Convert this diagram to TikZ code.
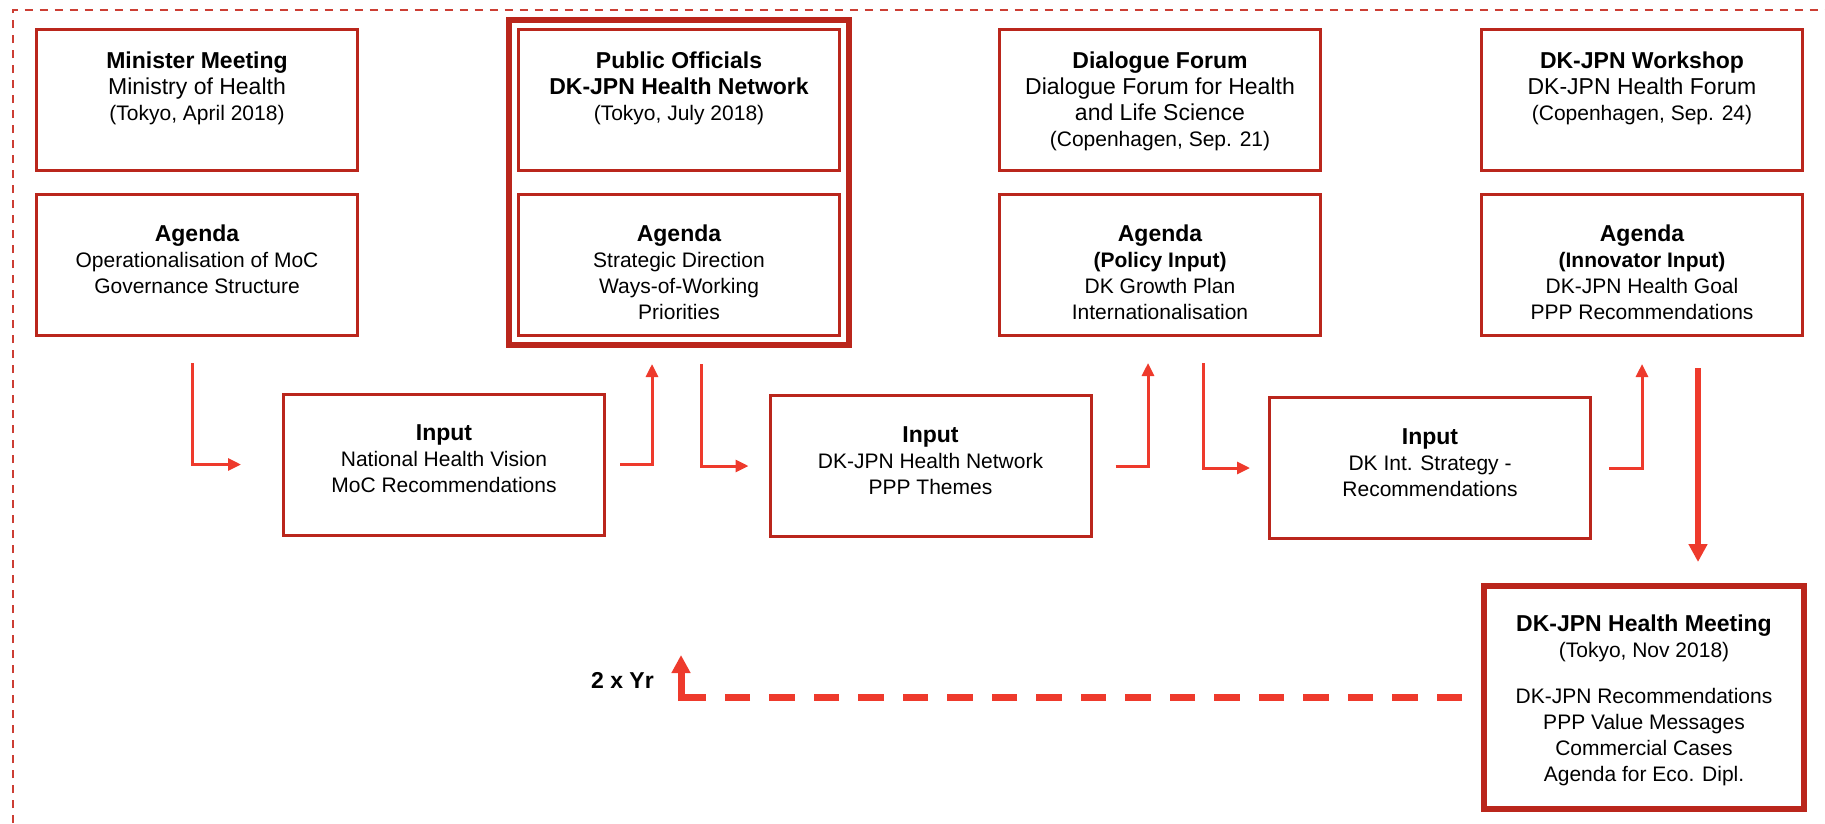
\documentclass[tikz,border=0pt]{standalone}
\usepackage{fontspec}
\setmainfont{Liberation Sans}
\usetikzlibrary{positioning,fit,arrows.meta}
\definecolor{boxred}{RGB}{186,38,28}
\definecolor{arrowred}{RGB}{238,58,44}
\definecolor{framered}{RGB}{204,62,52}
\tikzstyle{box}=[draw=boxred, line width=3pt, minimum width=321pt, minimum height=141pt, inner sep=0pt]
\tikzstyle{bigbox}=[draw=boxred, line width=6pt, minimum width=320pt, minimum height=223pt, inner sep=0pt]
\tikzstyle{grpbox}=[draw=boxred, line width=6pt, inner sep=8pt]
\tikzstyle{txt}=[align=center, inner sep=0pt, font=\fontsize{21}{26}\selectfont]
\tikzstyle{yr}=[inner sep=0pt, font=\fontsize{23}{26}\selectfont\bfseries]
\tikzstyle{flow}=[draw=arrowred, line width=3pt, -{Triangle[length=13pt,width=12pt]}]
\tikzstyle{bigflow}=[draw=arrowred, line width=6pt, -{Triangle[length=18pt,width=18pt]}]
\tikzstyle{back}=[draw=arrowred, line width=7pt, dash pattern=on 25.5pt off 19pt]
\tikzstyle{backtip}=[draw=arrowred, line width=7pt, -{Triangle[length=18pt,width=18pt]}]
\tikzstyle{frame}=[draw=framered, line width=2pt, dash pattern=on 8.5pt off 6.5pt]
\newcommand{\boxhead}[1]{{\fontsize{23}{26}\selectfont\bfseries #1}}
\newcommand{\boxsub}[1]{{\fontsize{23}{26}\selectfont #1}}

\begin{document}
\begin{tikzpicture}[x=1pt,y=-1pt]
    \useasboundingbox (0,0) rectangle (1825,823);
    \draw[frame] (13,823) -- (13,9.5) -- (1825,9.5);

    \path (197,100) node[box] (mm) {} ++ (0,165) node[box] (ma) {};
    \path (679,100) node[box] (pm) {} ++ (0,165) node[box] (pa) {};
    \path (1160,100) node[box] (dm) {} ++ (0,165) node[box] (da) {};
    \path (1642,100) node[box] (wm) {} ++ (0,165) node[box] (wa) {};
    \node[grpbox, fit=(pm)(pa)] (grp) {};
    \node[box] (in1) at (444,464.5) {};
    \node[box] (in2) at (930.5,466) {};
    \node[box] (in3) at (1430,468) {};
    \node[bigbox] (fin) at (1644,697.5) {};

    \node[txt, below=24pt of mm.north] (mmt) {\boxhead{Minister Meeting}\\ \boxsub{Ministry of Health}\\ (Tokyo, April 2018)};
    \node[txt, below=32pt of ma.north] (mat) {\boxhead{Agenda}\\ Operationalisation of MoC\\ Governance Structure};
    \node[txt, below=24pt of pm.north] (pmt) {\boxhead{Public Officials}\\ \boxhead{DK-JPN Health Network}\\ (Tokyo, July 2018)};
    \node[txt, below=32pt of pa.north] (pat) {\boxhead{Agenda}\\ Strategic Direction\\ Ways-of-Working\\ Priorities};
    \node[txt, below=24pt of dm.north] (dmt) {\boxhead{Dialogue Forum}\\ \boxsub{Dialogue Forum for Health}\\ \boxsub{and Life Science}\\ (Copenhagen, Sep. 21)};
    \node[txt, below=32pt of da.north] (dat) {\boxhead{Agenda}\\ \textbf{(Policy Input)}\\ DK Growth Plan\\ Internationalisation};
    \node[txt, below=24pt of wm.north] (wmt) {\boxhead{DK-JPN Workshop}\\ \boxsub{DK-JPN Health Forum}\\ (Copenhagen, Sep. 24)};
    \node[txt, below=32pt of wa.north] (wat) {\boxhead{Agenda}\\ \textbf{(Innovator Input)}\\ DK-JPN Health Goal\\ PPP Recommendations};
    \node[txt, below=32pt of in1.north] (in1t) {\boxhead{Input}\\ National Health Vision\\ MoC Recommendations};
    \node[txt, below=32pt of in2.north] (in2t) {\boxhead{Input}\\ DK-JPN Health Network\\ PPP Themes};
    \node[txt, below=32pt of in3.north] (in3t) {\boxhead{Input}\\ DK Int. Strategy -\\ Recommendations};
    \node[txt, below=32pt of fin.north] (fint) {\boxhead{DK-JPN Health Meeting}\\ (Tokyo, Nov 2018)\\[20pt] DK-JPN Recommendations\\ PPP Value Messages\\ Commercial Cases\\ Agenda for Eco. Dipl.};

    \draw[flow, shorten <=26pt, shorten >=41pt] ([xshift=-5pt]ma.south) |- (in1.west);
    \draw[flow, shorten <=14pt, shorten >=16pt] (in1.east) -| ([xshift=-27pt]grp.south);
    \draw[flow, shorten <=16pt, shorten >=20pt] ([xshift=22pt]grp.south) |- (in2.west);
    \draw[flow, shorten <=23pt, shorten >=26pt] (in2.east) -| ([xshift=-12pt]da.south);
    \draw[flow, shorten <=26pt, shorten >=18pt] ([xshift=43pt]da.south) |- (in3.west);
    \draw[flow, shorten <=17pt, shorten >=27pt] (in3.east) -| (wa.south);
    \draw[bigflow, shorten <=31pt, shorten >=21pt] ([xshift=56pt]wa.south) -- ([xshift=56pt]wa.south |- fin.north);

    \coordinate (ret) at (681,655);
    \coordinate (turn) at (fin.west -| ret);
    \draw[back, shorten <=19pt] (fin.west) -- (turn);
    \draw[backtip] ([yshift=-3.5pt]turn) -- (ret);
    \node[yr, anchor=east] (freq) at (654,680) {2 x Yr};
\end{tikzpicture}
\end{document}
